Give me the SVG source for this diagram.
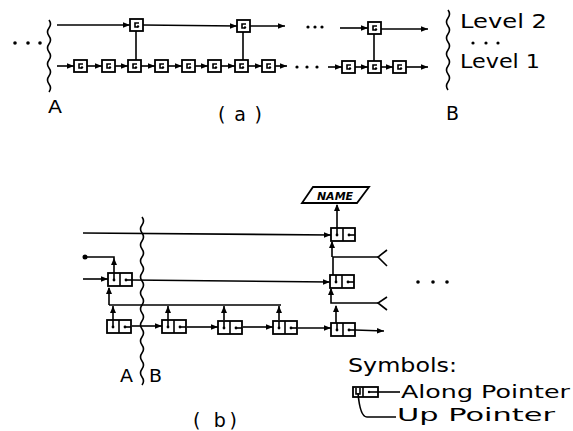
<svg xmlns="http://www.w3.org/2000/svg" width="573" height="431" viewBox="0 0 573 431">
<style>
.ln{stroke:#000;stroke-width:1.6;fill:none}
.bx{fill:#fff;stroke:#000;stroke-width:1.8}
.t{font-family:"DejaVu Sans","Liberation Sans",Arial,sans-serif;fill:#000}
.dt{fill:#000}
</style>
<defs>
<marker id="ah" markerUnits="userSpaceOnUse" markerWidth="8" markerHeight="6" refX="7" refY="2.75" orient="auto"><path d="M0,0 L7,2.75 L0,5.5 z" fill="#000"/></marker>
<g id="sb"><rect class="bx" x="0" y="0" width="13" height="12"/><path class="ln" d="M9,4 H5 V8 H8"/><circle class="dt" cx="8" cy="7.5" r="1.2"/></g>
<g id="db"><rect class="bx" x="0" y="0" width="24" height="13"/><line class="ln" x1="12" y1="0" x2="12" y2="13"/><path class="ln" d="M6,0 V7"/><circle class="dt" cx="6" cy="7" r="1.4"/><path class="ln" d="M18,7 H24"/><circle class="dt" cx="18" cy="7" r="1.4"/></g>
</defs>

<!-- ===== (a) ===== -->
<g id="connectors-a">
<path class="ln" d="M49,20 q3,4 0,8 t0,8 t0,8 t0,8 t0,8 t0,8 t0,8 t0,8 t0,8"/>
<path class="ln" d="M448,10 q3,4 0,8 t0,8 t0,8 t0,8 t0,8 t0,8 t0,8 t0,8 t0,8 t0,8"/>
<line class="ln" x1="57" y1="25" x2="130" y2="25" marker-end="url(#ah)"/>
<line class="ln" x1="143" y1="25" x2="237" y2="26" marker-end="url(#ah)"/>
<line class="ln" x1="250" y1="26" x2="285" y2="26" marker-end="url(#ah)"/>
<line class="ln" x1="340" y1="28" x2="368" y2="28" marker-end="url(#ah)"/>
<line class="ln" x1="381" y1="29" x2="428" y2="29" marker-end="url(#ah)"/>
<line class="ln" x1="57" y1="66" x2="74" y2="66" marker-end="url(#ah)"/>
<line class="ln" x1="87" y1="66" x2="102" y2="66" marker-end="url(#ah)"/>
<line class="ln" x1="115" y1="66" x2="128" y2="66" marker-end="url(#ah)"/>
<line class="ln" x1="141" y1="66" x2="155" y2="66" marker-end="url(#ah)"/>
<line class="ln" x1="168" y1="66" x2="182" y2="66" marker-end="url(#ah)"/>
<line class="ln" x1="195" y1="66" x2="208" y2="66" marker-end="url(#ah)"/>
<line class="ln" x1="221" y1="66" x2="235" y2="66" marker-end="url(#ah)"/>
<line class="ln" x1="248" y1="66" x2="262" y2="66" marker-end="url(#ah)"/>
<line class="ln" x1="275" y1="66" x2="287" y2="66" marker-end="url(#ah)"/>
<line class="ln" x1="328" y1="67" x2="342" y2="67" marker-end="url(#ah)"/>
<line class="ln" x1="355" y1="67" x2="368" y2="67" marker-end="url(#ah)"/>
<line class="ln" x1="381" y1="67" x2="393" y2="67" marker-end="url(#ah)"/>
<line class="ln" x1="406" y1="67" x2="428" y2="67" marker-end="url(#ah)"/>
<line class="ln" x1="136" y1="31" x2="136" y2="60"/>
<line class="ln" x1="243" y1="32" x2="243" y2="60"/>
<line class="ln" x1="374" y1="34" x2="374" y2="61"/>
</g>
<g id="nodes-a">
<g id="a-l2-1"><use href="#sb" x="130" y="19"/></g>
<g id="a-l2-2"><use href="#sb" x="237" y="20"/></g>
<g id="a-l2-3"><use href="#sb" x="368" y="22"/></g>
<g id="a-l1-1"><use href="#sb" x="74" y="60"/></g>
<g id="a-l1-2"><use href="#sb" x="102" y="60"/></g>
<g id="a-l1-3"><use href="#sb" x="128" y="60"/></g>
<g id="a-l1-4"><use href="#sb" x="155" y="60"/></g>
<g id="a-l1-5"><use href="#sb" x="182" y="60"/></g>
<g id="a-l1-6"><use href="#sb" x="208" y="60"/></g>
<g id="a-l1-7"><use href="#sb" x="235" y="60"/></g>
<g id="a-l1-8"><use href="#sb" x="262" y="60"/></g>
<g id="a-l1-9"><use href="#sb" x="342" y="61"/></g>
<g id="a-l1-10"><use href="#sb" x="368" y="61"/></g>
<g id="a-l1-11"><use href="#sb" x="393" y="61"/></g>
</g>
<g id="dots-a" class="dt">
<circle cx="15" cy="43" r="1.8"/><circle cx="28" cy="43" r="1.8"/><circle cx="40" cy="43" r="1.8"/>
<circle cx="308" cy="27" r="1.6"/><circle cx="315" cy="27" r="1.6"/><circle cx="322" cy="27" r="1.6"/>
<circle cx="297" cy="67" r="1.6"/><circle cx="307" cy="67" r="1.6"/><circle cx="317" cy="67" r="1.6"/>
<circle cx="473" cy="43" r="1.6"/><circle cx="486" cy="43" r="1.6"/><circle cx="498" cy="43" r="1.6"/>
</g>
<g id="labels-a">
<text class="t" x="48" y="113" font-size="18" textLength="14" lengthAdjust="spacingAndGlyphs">A</text>
<text class="t" x="218" y="121" font-size="19" textLength="44" lengthAdjust="spacing">( a )</text>
<text class="t" x="446" y="120" font-size="20" textLength="13" lengthAdjust="spacingAndGlyphs">B</text>
<text class="t" x="460" y="28" font-size="20" textLength="87" lengthAdjust="spacingAndGlyphs">Level 2</text>
<text class="t" x="460" y="68" font-size="20" textLength="80" lengthAdjust="spacingAndGlyphs">Level 1</text>
</g>

<!-- ===== (b) ===== -->
<g id="connectors-b">
<path class="ln" d="M142,217 q3,4 0,8 t0,8 t0,8 t0,8 t0,8 t0,8 t0,8 t0,8 t0,8 t0,8 t0,8 t0,8 t0,8 t0,8 t0,8 t0,8 t0,8 t0,8 t0,8 t0,8 t0,8"/>
<line class="ln" x1="83" y1="233" x2="331" y2="235" marker-end="url(#ah)"/>
<line class="ln" x1="83" y1="279" x2="108" y2="279" marker-end="url(#ah)"/>
<line class="ln" x1="132" y1="280" x2="330" y2="282" marker-end="url(#ah)"/>
<path class="ln" d="M114,273 V257 H85"/>
<circle class="dt" cx="85" cy="257" r="2.5"/>
<polygon points="114,258 111,265 117,265"/>
<path class="ln" d="M109,305 V288"/>
<polygon points="109,287 106,294 112,294"/>
<line class="ln" x1="109" y1="305" x2="281" y2="305"/>
<line class="ln" x1="113" y1="320" x2="113" y2="306"/>
<polygon points="113,306 110,313 116,313"/>
<line class="ln" x1="168" y1="320" x2="168" y2="306"/>
<polygon points="168,306 165,313 171,313"/>
<line class="ln" x1="224" y1="320" x2="224" y2="306"/>
<polygon points="224,306 221,313 227,313"/>
<line class="ln" x1="279" y1="320" x2="279" y2="306"/>
<polygon points="279,306 276,313 282,313"/>
<line class="ln" x1="132" y1="326" x2="162" y2="326" marker-end="url(#ah)"/>
<line class="ln" x1="187" y1="327" x2="218" y2="327" marker-end="url(#ah)"/>
<line class="ln" x1="243" y1="327" x2="273" y2="327" marker-end="url(#ah)"/>
<line class="ln" x1="298" y1="328" x2="331" y2="328" marker-end="url(#ah)"/>
<line class="ln" x1="355" y1="330" x2="384" y2="331" marker-end="url(#ah)"/>
<line class="ln" x1="337" y1="228" x2="337" y2="205"/>
<polygon points="337,204 334,211 340,211"/>
<path class="ln" d="M333,275 V257 H378 M332,257 V242"/>
<polygon points="332,241 329,248 335,248"/>
<path class="ln" d="M387,250 L378,257 L387,266"/>
<path class="ln" d="M331,289 V303 H378"/>
<polygon points="331,288 328,295 334,295"/>
<path class="ln" d="M387,297 L378,303 L387,310"/>
<line class="ln" x1="336" y1="323" x2="336" y2="306"/>
<polygon points="336,305 333,312 339,312"/>
</g>
<g id="nodes-b">
<g id="b-l2-left"><use href="#db" x="108" y="273"/></g>
<g id="b-l1-1"><use href="#db" x="107" y="320"/></g>
<g id="b-l1-2"><use href="#db" x="162" y="320"/></g>
<g id="b-l1-3"><use href="#db" x="218" y="321"/></g>
<g id="b-l1-4"><use href="#db" x="273" y="321"/></g>
<g id="b-l1-5"><use href="#db" x="331" y="323"/></g>
<g id="b-l2-right"><use href="#db" x="330" y="275"/></g>
<g id="b-l3"><use href="#db" x="331" y="228"/></g>
<g id="name"><polygon class="bx" points="313,187 369,187 357,203 302,203"/><text class="t" x="335" y="200" font-size="11" font-weight="bold" font-style="italic" text-anchor="middle">NAME</text></g>
</g>
<g id="dots-b" class="dt">
<circle cx="418" cy="282" r="1.8"/><circle cx="433" cy="282" r="1.8"/><circle cx="447" cy="282" r="1.8"/>
</g>
<g id="labels-b">
<text class="t" x="120" y="382" font-size="18" textLength="13" lengthAdjust="spacingAndGlyphs">A</text>
<text class="t" x="149" y="382" font-size="18" textLength="13" lengthAdjust="spacingAndGlyphs">B</text>
<text class="t" x="193" y="427" font-size="19" textLength="44" lengthAdjust="spacing">( b)</text>
</g>

<!-- legend -->
<g id="legend">
<text class="t" x="348" y="372" font-size="19" textLength="109" lengthAdjust="spacingAndGlyphs">Symbols:</text>
<rect class="bx" x="353" y="387" width="25" height="10"/>
<line class="ln" x1="363" y1="387" x2="363" y2="397"/>
<path class="ln" d="M356,388 V394 H360 V388"/>
<circle class="dt" cx="369" cy="392" r="1.2"/>
<path class="ln" d="M369,392 H400"/>
<path class="ln" d="M358,393 C359,405 361,417 367,417 H396"/>
<text class="t" x="401" y="398" font-size="17" textLength="169" lengthAdjust="spacingAndGlyphs">Along Pointer</text>
<text class="t" x="397" y="421" font-size="17" textLength="158" lengthAdjust="spacingAndGlyphs">Up Pointer</text>
</g>
</svg>
